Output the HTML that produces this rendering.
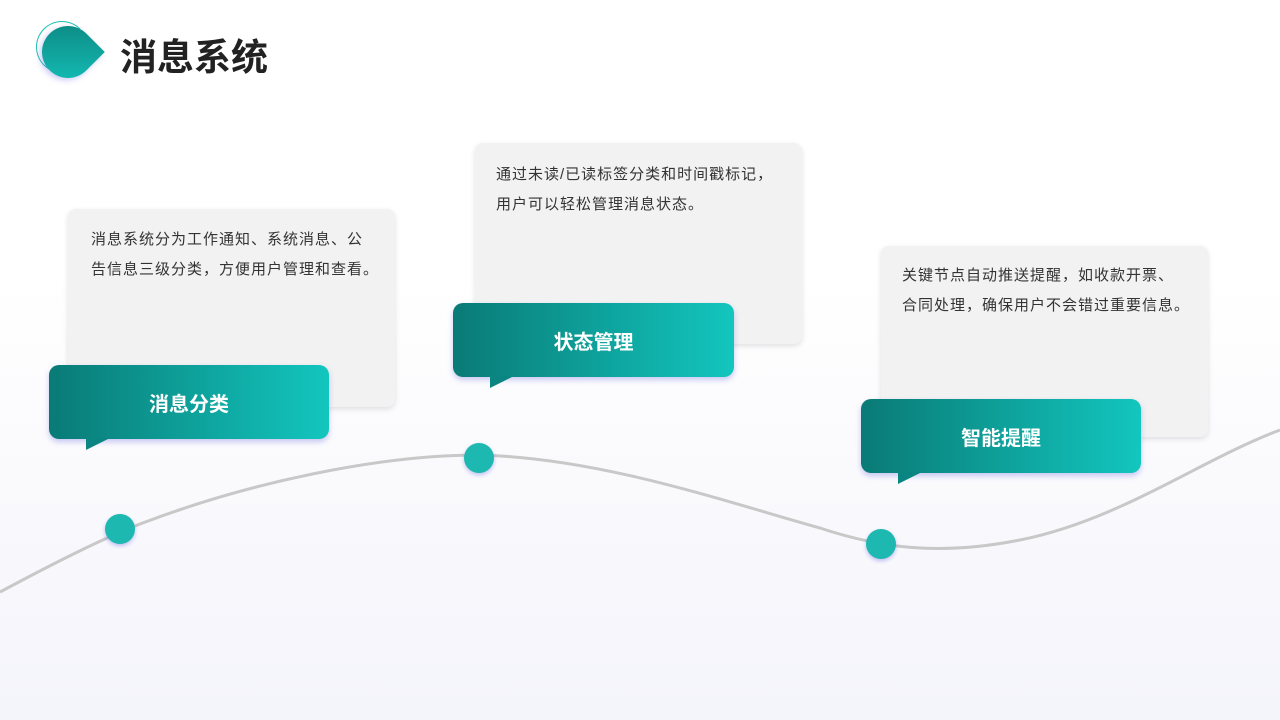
<!DOCTYPE html>
<html><head><meta charset="utf-8"><style>
body{margin:0;width:1280px;height:720px;overflow:hidden;position:relative;font-family:"Liberation Sans","Noto Sans CJK SC",sans-serif;background:linear-gradient(180deg,#fff 0,#fff 280px,#f4f4fb 720px);}
.card{position:absolute;background:#f2f2f2;border-radius:8px;box-shadow:0 2px 6px rgba(0,0,0,0.12);font-size:15px;letter-spacing:1px;color:#333;line-height:30px;box-sizing:border-box;padding:16px 0 16px 23px;white-space:nowrap;}
.lab{position:absolute;width:280px;height:74px;border-radius:10px;background:linear-gradient(90deg,#0a7a76,#12c6be);color:#fff;font-weight:bold;font-size:20px;display:flex;align-items:center;justify-content:center;box-shadow:0 3px 6px rgba(100,100,220,0.35);}
.lab:after{content:"";position:absolute;left:37px;bottom:-11px;border-right:24px solid transparent;border-top:12px solid #0b8581;}
.dot{position:absolute;width:30px;height:30px;border-radius:50%;background:#1db8b0;box-shadow:0 2px 4px rgba(100,100,220,0.4);}
</style></head><body>
<div style="position:absolute;left:36px;top:21px;width:64px;height:54px;">
<div style="position:absolute;left:0;top:0;width:50px;height:50px;border:1.5px solid #1cc0b5;border-radius:50%;border-right-color:transparent;"></div>
<div style="position:absolute;left:6px;top:5px;width:52px;height:52px;border-radius:50% 0 50% 50%;transform:rotate(45deg);transform-origin:center;background:linear-gradient(135deg,#0c8580,#14c0b8);box-shadow:0 3px 6px rgba(110,110,230,0.35);"></div>
</div>
<div style="position:absolute;left:120px;top:27px;font-size:37px;font-weight:bold;color:#222;">消息系统</div>
<svg style="position:absolute;left:0;top:0" width="1280" height="720"><path d="M0 592 C60 560,100 540,140 524 C250 482,380 455,479 455 C600 458,720 500,820 528 C880 548,940 556,1020 540 C1120 520,1200 460,1280 430" fill="none" stroke="#c8c8c8" stroke-width="3"/></svg>
<div class="card" style="left:68px;top:209px;width:327px;height:198px;">消息系统分为工作通知、系统消息、公<br>告信息三级分类，方便用户管理和查看。</div>
<div class="card" style="left:475px;top:143px;width:327px;height:201px;padding-left:21px;padding-top:17px;">通过未读/已读标签分类和时间戳标记，<br>用户可以轻松管理消息状态。</div>
<div class="card" style="left:881px;top:246px;width:327px;height:191px;padding-left:21px;padding-top:15px;">关键节点自动推送提醒，如收款开票、<br>合同处理，确保用户不会错过重要信息。</div>
<div class="lab" style="left:49px;top:365px;">消息分类</div>
<div class="lab" style="left:453px;top:303px;width:281px;">状态管理</div>
<div class="lab" style="left:861px;top:399px;">智能提醒</div>
<div class="dot" style="left:105px;top:514px;"></div>
<div class="dot" style="left:464px;top:443px;"></div>
<div class="dot" style="left:866px;top:529px;"></div>
</body></html>
